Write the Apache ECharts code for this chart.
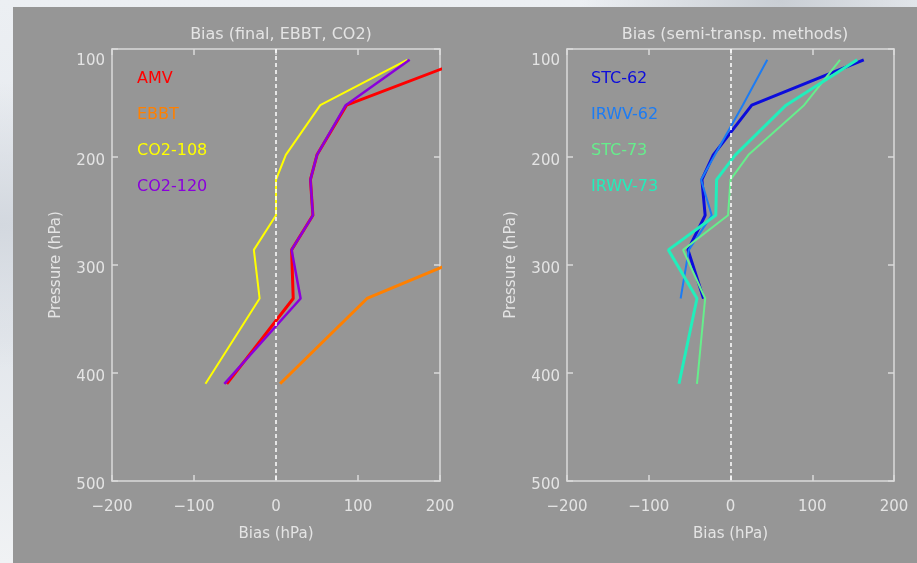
<!DOCTYPE html>
<html>
<head>
<meta charset="utf-8">
<script src="https://cdn.jsdelivr.net/npm/echarts@6/dist/echarts.min.js"></script>
<style>
  html, body { margin: 0; padding: 0; }
  body {
    width: 917px; height: 563px; overflow: hidden;
    background:
      radial-gradient(ellipse at 85% 0%, #c9ced4 0%, rgba(201,206,212,0) 18%),
      radial-gradient(ellipse at 0% 40%, #d3d8df 0%, rgba(211,216,223,0) 30%),
      linear-gradient(180deg, #eceff3 0%, #e3e7ec 60%, #f0f2f4 100%);
  }
  #chart { width: 917px; height: 563px; }
</style>
</head>
<body>
<div id="chart"></div>
<script>
// Pressure levels (hPa) shared by all profiles
const levels = [110, 152, 198, 221, 254, 286, 331, 410];

// Left panel: final AMV, EBBT and CO2-slicing biases (hPa)
const amv    = [231, 86, 50, 42, 45, 19, 21, -60];
const ebbt   = [null, null, null, null, null, 253, 111, 5];
const co2_108 = [160, 54, 12, 0, 0, -27, -20, -86];
const co2_120 = [163, 85, 50, 42, 45, 19, 30, -63];

// Right panel: semi-transparency methods (hPa)
const stc62  = [163, 26, -21, -35, -31, -52, -33, null];
const irwv62 = [45, 15, -19, -36, -23, -51, -61, null];
const stc73  = [134, 90, 22, 0, -3, -58, -31, -41];
const irwv73 = [155, 68, 6, -17, -18, -76, -41, -63];

// Axis ticks
const biasTicks = [-200, -100, 0, 100, 200];
const pressureTicks = [100, 200, 300, 400, 500];

const FONT = 'DejaVu Sans';
const TXT = '#e4e4e4';
const AX = '#dadada';

function profile(vals) {
  const pts = [];
  levels.forEach((p, i) => { if (vals[i] !== null) pts.push([vals[i], p]); });
  return pts;
}

const chart = echarts.init(document.getElementById('chart'), null, { renderer: 'canvas' });

const grids = [
  { left: 112, top: 49, width: 328, height: 432 },
  { left: 567, top: 49, width: 327, height: 432 }
];

function xAxes(gi) {
  const base = {
    type: 'value', gridIndex: gi,
    min: biasTicks[0], max: biasTicks[biasTicks.length - 1], interval: 100,
    axisLine: { show: true, onZero: false, lineStyle: { color: AX, width: 1.5 } },
    axisTick: { show: true, inside: true, length: 6, lineStyle: { color: AX, width: 1.5 } },
    splitLine: { show: false }
  };
  return [
    Object.assign({}, base, {
      position: 'bottom',
      name: 'Bias (hPa)', nameLocation: 'middle', nameGap: 46,
      nameTextStyle: { color: TXT, fontFamily: FONT, fontSize: 15 },
      axisLabel: {
        color: TXT, fontFamily: FONT, fontSize: 15, margin: 19,
        formatter: v => (v < 0 ? '\u2212' + Math.abs(v) : String(v))
      }
    }),
    Object.assign({}, base, { position: 'top', axisLabel: { show: false } })
  ];
}

function yAxes(gi) {
  const base = {
    type: 'value', gridIndex: gi, inverse: true,
    min: pressureTicks[0], max: pressureTicks[pressureTicks.length - 1], interval: 100,
    axisLine: { show: true, onZero: false, lineStyle: { color: AX, width: 1.5 } },
    axisTick: { show: true, inside: true, length: 6, lineStyle: { color: AX, width: 1.5 } },
    splitLine: { show: false }
  };
  return [
    Object.assign({}, base, {
      position: 'left',
      name: 'Pressure (hPa)', nameLocation: 'middle', nameGap: 48,
      nameTextStyle: { color: TXT, fontFamily: FONT, fontSize: 15 },
      axisLabel: {
        color: TXT, fontFamily: FONT, fontSize: 15, margin: 7,
        formatter: v => (v === 100 ? '{t|' + v + '}' : '{n|' + v + '}'),
        rich: {
          t: { color: TXT, fontFamily: FONT, fontSize: 15, padding: [24, 0, 0, 0] },
          n: { color: TXT, fontFamily: FONT, fontSize: 15, padding: [8, 0, 0, 0] }
        }
      }
    }),
    Object.assign({}, base, { position: 'right', axisLabel: { show: false } })
  ];
}

function lineSeries(name, vals, color, width, xi, yi) {
  return {
    name: name, type: 'line', xAxisIndex: xi, yAxisIndex: yi,
    data: profile(vals), showSymbol: false, symbol: 'none', clip: true,
    lineStyle: { color: color, width: width }, itemStyle: { color: color },
    animation: false
  };
}

function zeroLine(xi, yi) {
  return {
    type: 'line', xAxisIndex: xi, yAxisIndex: yi, data: [], silent: true,
    markLine: {
      silent: true, symbol: 'none', animation: false,
      label: { show: false },
      lineStyle: { color: '#ffffff', width: 1.5, type: [4, 3] },
      data: [{ xAxis: 0 }]
    }
  };
}

function legendFor(names, colors, left) {
  return {
    orient: 'vertical', left: left, top: 66, icon: 'none',
    itemWidth: 0, itemHeight: 16, itemGap: 20, selectedMode: false,
    textStyle: { fontFamily: FONT, fontSize: 16 },
    data: names.map((n, i) => ({ name: n, textStyle: { color: colors[i] } }))
  };
}

const leftNames = ['AMV', 'EBBT', 'CO2-108', 'CO2-120'];
const leftColors = ['#ff0000', '#ff8000', '#ffff00', '#8a00dc'];
const rightNames = ['STC-62', 'IRWV-62', 'STC-73', 'IRWV-73'];
const rightColors = ['#0c0cdc', '#1c7cf4', '#66ee8c', '#22eebb'];

chart.setOption({
  backgroundColor: 'transparent',
  animation: false,
  graphic: [{
    type: 'rect', z: -10, silent: true,
    shape: { x: 13, y: 7, width: 904, height: 556 },
    style: { fill: '#969696' }
  }],
  title: [
    { text: 'Bias (final, EBBT, CO2)', left: 276, top: 22, textAlign: 'center',
      textStyle: { color: TXT, fontFamily: FONT, fontSize: 16, fontWeight: 'normal' } },
    { text: 'Bias (semi-transp. methods)', left: 730, top: 22, textAlign: 'center',
      textStyle: { color: TXT, fontFamily: FONT, fontSize: 16, fontWeight: 'normal' } }
  ],
  legend: [legendFor(leftNames, leftColors, 127), legendFor(rightNames, rightColors, 581)],
  grid: grids,
  xAxis: xAxes(0).concat(xAxes(1)),
  yAxis: yAxes(0).concat(yAxes(1)),
  series: [
    zeroLine(0, 0),
    lineSeries('AMV', amv, leftColors[0], 3, 0, 0),
    lineSeries('EBBT', ebbt, leftColors[1], 3, 0, 0),
    lineSeries('CO2-108', co2_108, leftColors[2], 2, 0, 0),
    lineSeries('CO2-120', co2_120, leftColors[3], 2.5, 0, 0),
    zeroLine(2, 2),
    lineSeries('STC-62', stc62, rightColors[0], 3, 2, 2),
    lineSeries('IRWV-62', irwv62, rightColors[1], 2, 2, 2),
    lineSeries('STC-73', stc73, rightColors[2], 2, 2, 2),
    lineSeries('IRWV-73', irwv73, rightColors[3], 3, 2, 2)
  ]
});
</script>
</body>
</html>
